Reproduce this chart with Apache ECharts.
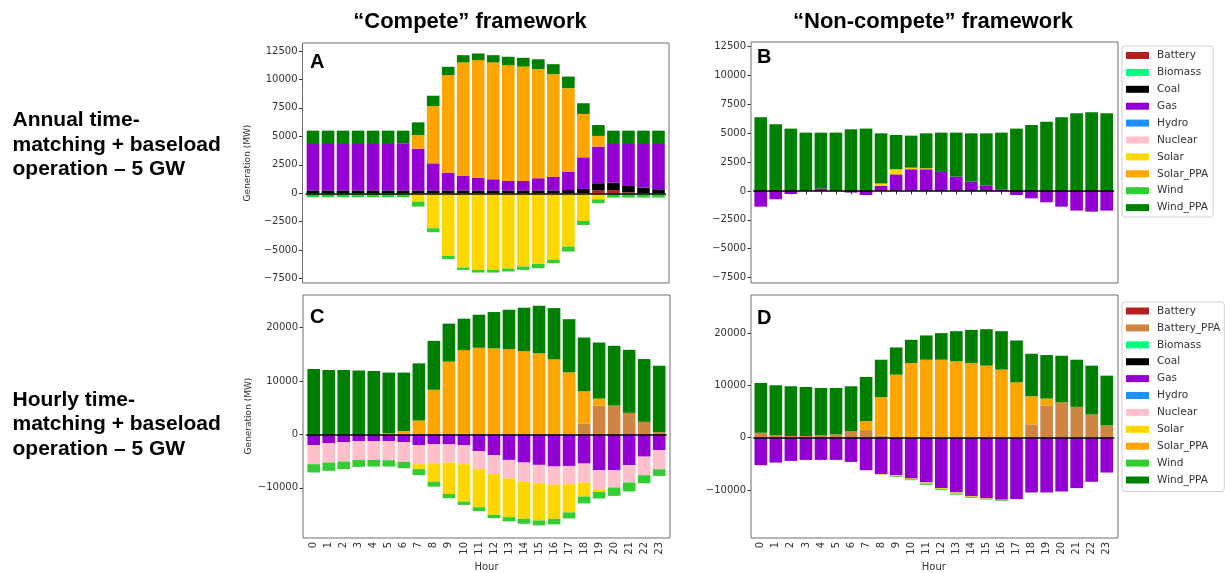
<!DOCTYPE html>
<html>
<head>
<meta charset="utf-8">
<script src="https://cdn.jsdelivr.net/npm/echarts@6/dist/echarts.min.js"></script>
<style>html,body{margin:0;padding:0;background:#fff}#chart{width:1225px;height:573px}</style>
</head>
<body>
<div id="chart"></div>
<script>
// ---------- data ----------
const hours = ['0','1','2','3','4','5','6','7','8','9','10','11','12','13','14','15','16','17','18','19','20','21','22','23'];
const yTicksTop = [-7500, -5000, -2500, 0, 2500, 5000, 7500, 10000, 12500];
const yTicksBottom = [-10000, 0, 10000, 20000];
const legendTop = ['Battery','Biomass','Coal','Gas','Hydro','Nuclear','Solar','Solar_PPA','Wind','Wind_PPA'];
const legendBottom = ['Battery','Battery_PPA','Biomass','Coal','Gas','Hydro','Nuclear','Solar','Solar_PPA','Wind','Wind_PPA'];

// Panel A: Compete, annual matching
const a_battery  = [0,0,0,0,0,0,0,0,0,0,0,0,0,0,0,0,0,0,0,250,280,80,0,0];
const a_coal     = [250,250,250,250,250,250,250,250,250,250,250,250,250,250,250,250,250,280,380,630,650,560,500,350];
const a_gas      = [4080,4080,4080,4080,4080,4080,4140,3670,2380,1560,1270,1120,980,860,860,1070,1210,1620,2780,3220,3400,3690,3830,3980];
const a_solar    = [0,0,0,0,0,0,0,-730,-3070,-5500,-6520,-6730,-6730,-6610,-6430,-6200,-5850,-4680,-2430,-530,0,0,0,0];
const a_solarPPA = [0,0,0,0,0,0,0,1200,5030,8570,9970,10330,10260,10150,10020,9580,9000,7330,3810,940,0,0,0,0];
const a_wind     = [-350,-350,-350,-350,-350,-350,-350,-440,-350,-290,-210,-230,-230,-260,-300,-380,-290,-440,-350,-350,-380,-380,-380,-380];
const a_windPPA  = [1170,1170,1170,1170,1170,1170,1110,1110,910,730,640,580,640,730,770,870,880,1020,940,960,1170,1170,1170,1170];

// Panel B: Non-compete, annual matching
const b_gas      = [-1360,-720,-260,0,200,0,-140,-350,450,1440,1880,1880,1650,1240,810,460,150,-350,-640,-980,-1360,-1700,-1790,-1700];
const b_solar    = [0,0,0,0,0,0,0,0,200,440,140,80,0,0,0,0,0,0,0,0,0,0,0,0];
const b_windPPA  = [6380,5770,5400,5050,4850,5050,5340,5400,4340,2970,2770,3030,3400,3810,4180,4530,4900,5400,5720,6000,6380,6730,6810,6730];

// Panel C: Compete, hourly matching
const c_batteryPPA = [0,0,0,0,0,0,0,0,0,0,0,0,0,0,0,0,0,0,2050,5410,5410,4040,2360,400];
const c_gas      = [-1980,-1670,-1420,-1240,-1240,-1240,-1420,-1980,-1860,-1860,-2040,-3100,-3900,-4770,-5260,-5700,-6010,-5900,-5460,-6710,-6710,-5720,-4160,-2920];
const c_nuclear  = [-3590,-3590,-3660,-3530,-3530,-3590,-3720,-3590,-3530,-3400,-3530,-3400,-3530,-3470,-3590,-3460,-3400,-3420,-3540,-3540,-3230,-3280,-3480,-3600];
const c_solar    = [0,0,0,0,0,0,0,-930,-3460,-5890,-7000,-7120,-7620,-7240,-6940,-6940,-6380,-5280,-2610,-500,0,0,0,0];
const c_solarPPA = [0,0,0,0,0,200,620,2600,8360,13620,15790,16220,16100,15980,15600,15170,14060,11620,6020,1300,0,0,0,0];
const c_wind     = [-1550,-1550,-1420,-1300,-1240,-1180,-1180,-1120,-930,-800,-620,-750,-620,-800,-930,-930,-1050,-1120,-1310,-1240,-1560,-1680,-1490,-1250];
const c_windPPA  = [12260,12070,12070,11950,11890,11380,10960,10710,9160,7120,5880,6190,6810,7360,8120,8920,9590,9950,10070,10490,11180,11800,11750,12460];

// Panel D: Non-compete, hourly matching
const d_batteryPPA = [950,500,320,320,440,630,1270,1460,400,0,0,0,0,0,0,0,0,0,2540,6160,6790,5900,4440,2350];
const d_gas      = [-5270,-4760,-4440,-4250,-4250,-4250,-4630,-6220,-6980,-7170,-7810,-8570,-9650,-10480,-11240,-11620,-11870,-11750,-10480,-10480,-10290,-9650,-8440,-6670];
const d_solar    = [0,0,0,0,0,0,0,0,-100,-150,-150,-200,-200,-200,-150,-100,-100,0,0,0,0,0,0,0];
const d_solarPPA = [0,0,0,0,0,0,0,1710,7350,12060,14290,14920,14920,14600,14290,13780,13020,10600,5400,1330,0,0,0,0];
const d_wind     = [0,0,0,0,0,0,0,0,0,-150,-170,-250,-180,-220,-150,-120,-150,0,0,0,0,0,0,0];
const d_windPPA  = [9530,9530,9520,9390,9080,8890,8570,8450,7170,5210,4440,4640,5080,5780,6340,6980,7360,8000,8120,8320,8890,9020,9340,9520];

// ---------- styles / layout ----------
const colors = {
  'Battery':'#b22222','Battery_PPA':'#cd853f','Biomass':'#00ff7f','Coal':'#000000','Gas':'#9400d3',
  'Hydro':'#1e90ff','Nuclear':'#ffc0cb','Solar':'#ffd700','Solar_PPA':'#ffa500','Wind':'#32cd32','Wind_PPA':'#008000'
};
const panels = [
  { frame:[302.5,43,366.5,240], grid:[305.5,43,360.5,240], min:-7880, max:13200, ticks:yTicksTop, ylab:true, xlab:false, letter:'A',
    series:[['Battery',a_battery],['Biomass',[]],['Coal',a_coal],['Gas',a_gas],['Hydro',[]],['Solar',a_solar],['Solar_PPA',a_solarPPA],['Wind',a_wind],['Wind_PPA',a_windPPA]] },
  { frame:[751,42,367,241], grid:[753.2,42,361,241], min:-7970, max:12900, ticks:yTicksTop, ylab:false, xlab:false, letter:'B',
    series:[['Gas',b_gas],['Solar',b_solar],['Wind_PPA',b_windPPA]] },
  { frame:[303,295,367,243], grid:[306.2,295,360.5,243], min:-19200, max:26100, ticks:yTicksBottom, ylab:true, xlab:true, letter:'C',
    series:[['Battery_PPA',c_batteryPPA],['Gas',c_gas],['Nuclear',c_nuclear],['Solar',c_solar],['Solar_PPA',c_solarPPA],['Wind',c_wind],['Wind_PPA',c_windPPA]] },
  { frame:[751,295,367,243], grid:[753.3,295,361,243], min:-19000, max:27300, ticks:yTicksBottom, ylab:false, xlab:true, letter:'D',
    series:[['Battery_PPA',d_batteryPPA],['Gas',d_gas],['Solar',d_solar],['Solar_PPA',d_solarPPA],['Wind',d_wind],['Wind_PPA',d_windPPA]] }
];
const letterPos = [[310,62],[757,57.5],[310,317.5],[757,318]];
const tickFont = 'DejaVu Sans';
const minus = v => (v < 0 ? '\u2212' + Math.abs(v) : String(v));

const grids = [], xAxes = [], yAxes = [], series = [], graphics = [];
panels.forEach((p, i) => {
  grids.push({ left:p.grid[0], top:p.grid[1], width:p.grid[2], height:p.grid[3], show:false, containLabel:false });
  xAxes.push({
    type:'category', gridIndex:i, data:hours, boundaryGap:true,
    axisLine:{show:false},
    axisTick:{show:true, alignWithLabel:true, length:3.5, lineStyle:{color:'#333'}},
    axisLabel:{show:p.xlab, rotate:90, fontSize:10, color:'#333', fontFamily:tickFont, margin:5, interval:0},
    splitLine:{show:false},
    name:p.xlab ? 'Hour' : '', nameLocation:'middle', nameGap:25,
    nameTextStyle:{fontSize:10, color:'#333', fontFamily:tickFont}
  });
  yAxes.push({
    type:'value', gridIndex:i, min:p.min, max:p.max, offset:p.grid[0]-p.frame[0],
    axisLine:{show:false},
    axisTick:{show:true, length:3.5, customValues:p.ticks, lineStyle:{color:'#333'}},
    axisLabel:{fontSize:10, color:'#333', fontFamily:tickFont, margin:5, customValues:p.ticks, formatter:minus},
    splitLine:{show:false},
    name:p.ylab ? 'Generation (MW)' : '', nameLocation:'middle', nameGap:50, nameRotate:90,
    nameTextStyle:{fontSize:9, color:'#333', fontFamily:tickFont}
  });
  p.series.forEach(([name, data], k) => {
    const s = {
      type:'bar', name:name, xAxisIndex:i, yAxisIndex:i, stack:'panel'+i, data:data,
      barCategoryGap:'16%', itemStyle:{color:colors[name]}, emphasis:{disabled:true}
    };
    if (k === p.series.length - 1) {
      s.markLine = { silent:true, symbol:['none','none'], z:10, label:{show:false},
        lineStyle:{color:'#000', width:1.6, type:'solid'}, data:[{yAxis:0}] };
    }
    series.push(s);
  });
  graphics.push({ type:'rect', shape:{x:p.frame[0], y:p.frame[1], width:p.frame[2], height:p.frame[3]},
    style:{fill:'none', stroke:'#6e6e6e', lineWidth:1}, z:1, silent:true });
  graphics.push({ type:'text', x:letterPos[i][0], y:letterPos[i][1], z:20, silent:true,
    style:{text:p.letter, font:'bold 20px "Liberation Sans", Arial, sans-serif', fill:'#000', align:'left', verticalAlign:'middle'} });
});

const headFont = 'bold 22px "Liberation Sans", Arial, sans-serif';
const sideFont = 'bold 21px "Liberation Sans", Arial, sans-serif';
graphics.push({ type:'text', x:470, y:22, silent:true, style:{text:'\u201cCompete\u201d framework', font:headFont, fill:'#000', align:'center', verticalAlign:'middle'} });
graphics.push({ type:'text', x:933, y:22, silent:true, style:{text:'\u201cNon-compete\u201d framework', font:headFont, fill:'#000', align:'center', verticalAlign:'middle'} });
const sideA = ['Annual time-','matching + baseload','operation \u2013 5 GW'];
const sideC = ['Hourly time-','matching + baseload','operation \u2013 5 GW'];
sideA.forEach((t, j) => graphics.push({ type:'text', x:12.5, y:120.5 + j*24.5, silent:true, style:{text:t, font:sideFont, fill:'#000', align:'left', verticalAlign:'middle'} }));
sideC.forEach((t, j) => graphics.push({ type:'text', x:12.5, y:400 + j*24.5, silent:true, style:{text:t, font:sideFont, fill:'#000', align:'left', verticalAlign:'middle'} }));

const legendBase = {
  orient:'vertical', icon:'rect', itemWidth:23, itemHeight:7, itemGap:5.9,
  textStyle:{fontSize:10.5, color:'#333', fontFamily:tickFont, padding:[0,0,0,3]},
  borderColor:'#d0d0d0', borderWidth:1, borderRadius:3, backgroundColor:'#fff',
  padding:[4,5,4,4], selectedMode:false
};
const legends = [
  Object.assign({}, legendBase, { left:1122, top:46, data:legendTop }),
  Object.assign({}, legendBase, { left:1122, top:302, data:legendBottom, padding:[3.5,4,6,4] })
];

const chart = echarts.init(document.getElementById('chart'), null, {renderer:'canvas'});
chart.setOption({
  animation:false,
  backgroundColor:'#fff',
  grid:grids, xAxis:xAxes, yAxis:yAxes, series:series,
  legend:legends, graphic:graphics
});
</script>
</body>
</html>
